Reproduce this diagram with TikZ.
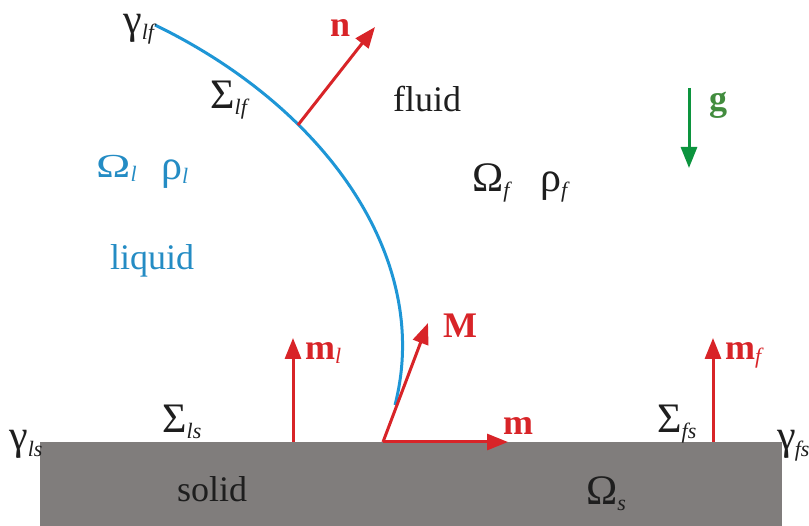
\documentclass[tikz,border=0pt]{standalone}
\usepackage{fontspec}
\setmainfont{Liberation Serif}
\usetikzlibrary{arrows.meta}
\definecolor{vred}{RGB}{216,36,40}
\definecolor{vblue}{RGB}{30,150,214}
\definecolor{tblue}{RGB}{36,140,196}
\definecolor{vgreen}{RGB}{12,148,62}
\definecolor{tgreen}{RGB}{66,140,62}
\definecolor{solidgray}{RGB}{128,125,124}
\definecolor{ink}{RGB}{30,30,30}
\newcommand\sbx[1]{\raisebox{-6pt}{\fontsize{22}{22}\selectfont\itshape #1}}
\newcommand\sbb[1]{\raisebox{-4pt}{\fontsize{22}{22}\selectfont\itshape #1}}
\newcommand\gk[1]{{\fontsize{42}{44}\selectfont #1}}
\begin{document}
\begin{tikzpicture}[x=1pt,y=-1pt,
  lab/.style={anchor=base west,inner sep=0pt,font=\fontsize{36}{40}\selectfont,text=ink},
  vlab/.style={lab,text=vred,font=\fontsize{36}{40}\selectfont\bfseries},
  blab/.style={lab,text=tblue},
  vec/.style={draw=vred,line width=3pt,-{Triangle[length=21pt,width=16pt]}},
  gvec/.style={draw=vgreen,line width=3pt,-{Triangle[length=21pt,width=16pt]}}]
\useasboundingbox (0,0) rectangle (809,526);
% solid
\fill[solidgray] (40,442) rectangle (782,526);
% interface
\coordinate (top) at (155,25);
\coordinate (cl) at (395,405);
\draw[vblue,line width=3pt] (top) .. controls (330,110) and (432,262) .. (cl);
% base points
\coordinate (o) at (383,442);
\coordinate (nb) at (298,125);
\coordinate (nt) at (375,27);
\coordinate (Mt) at (428,323);
\coordinate (mt) at (508,442);
\coordinate (mlb) at (293,442);
\coordinate (mlt) at (293,338);
\coordinate (mfb) at (713,442);
\coordinate (mft) at (713,338);
\coordinate (gb) at (689,88);
\coordinate (gt) at (689,168);
\draw[vec] (nb) -- (nt);
\draw[vec] (o) -- (Mt);
\draw[vec] (o) -- (mt);
\draw[vec] (mlb) -- (mlt);
\draw[vec] (mfb) -- (mft);
\draw[gvec] (gb) -- (gt);
% labels
\node[lab] (glf) at (123,34) {\gk{γ}\sbx{lf}};
\node[lab] (Slf) at (210,109) {\gk{Σ}\sbx{lf}};
\node[lab] (fluid) at (393,112) {fluid};
\node[blab] (Oml) at (96,178) {\scalebox{1.1}[0.8]{\gk{Ω}}\sbb{l}};
\node[blab] (rhol) at (161,180) {\gk{ρ}\sbb{l}};
\node[blab] (liquid) at (110,270) {liquid};
\node[lab] (Omf) at (472,192) {\gk{Ω}\sbx{f}};
\node[lab] (rhof) at (540,192) {\gk{ρ}\sbx{f}};
\node[vlab,text=tgreen] (g) at (709,111) {g};
\node[vlab] (n) at (330,37) {n};
\node[vlab] (ml) at (305,360) {m\sbb{\mdseries l}};
\node[vlab] (M) at (443,338) {M};
\node[vlab] (m) at (503,435) {m};
\node[vlab] (mf) at (725,360) {m\sbb{\mdseries f}};
\node[lab] (Sls) at (162,433) {\gk{Σ}\sbx{ls}};
\node[lab] (Sfs) at (657,433) {\gk{Σ}\sbx{fs}};
\node[lab] (gls) at (9,450) {\gk{γ}\sbx{ls}};
\node[lab] (gfs) at (777,450) {\gk{γ}\kern-1pt\sbx{fs}};
\node[lab] (solid) at (177,502) {solid};
\node[lab] (Oms) at (586,504) {\gk{Ω}\sbx{s}};
\end{tikzpicture}
\end{document}
